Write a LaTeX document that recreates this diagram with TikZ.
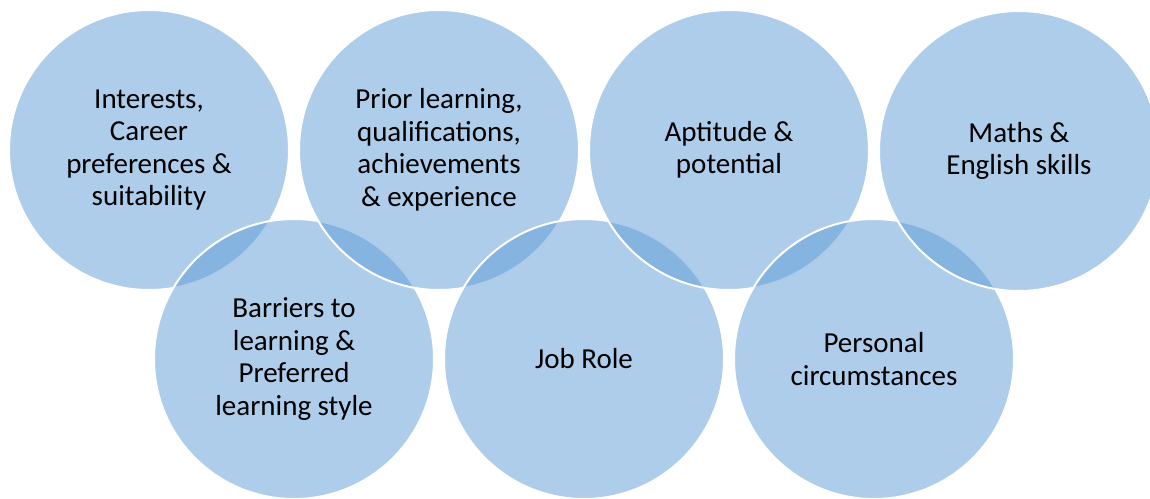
\documentclass[tikz,border=0pt]{standalone}
\usepackage{fontspec}
\setmainfont{Carlito}
\definecolor{accentblue}{HTML}{5B9BD5}
\begin{document}
\begin{tikzpicture}[x=1pt,y=-1pt,
  bubble/.style={circle, minimum size=280pt, inner sep=0pt, outer sep=0pt,
    fill=accentblue, fill opacity=0.5, text opacity=1, draw=white, line width=2pt,
    align=center, text=black, font=\fontsize{29}{32.5}\selectfont}]
\useasboundingbox (0,0) rectangle (1150,498);
\node[bubble] (c1) at (149,150) {Interests,\\Career\\preferences \&\\suitability};
\node[bubble] (c5) at (294,359) {Barriers to\\learning \&\\Preferred\\learning style};
\node[bubble] (c2) at (439,150) {Prior learning,\\qualifications,\\achievements\\\& experience};
\node[bubble] (c6) at (584,359) {Job Role};
\node[bubble] (c3) at (729,150) {Aptitude \&\\potential};
\node[bubble] (c7) at (874,359) {Personal\\circumstances};
\node[bubble] (c4) at (1019,151) {Maths \&\\English skills};
\end{tikzpicture}
\end{document}
